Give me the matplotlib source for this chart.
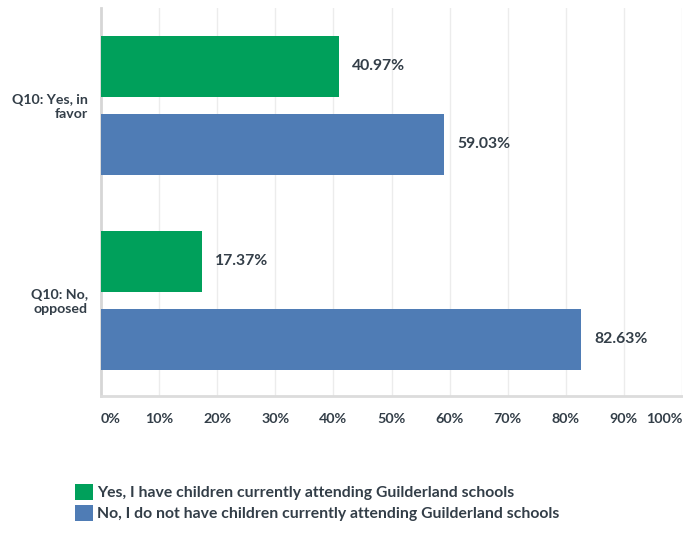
import matplotlib
matplotlib.use("Agg")
import matplotlib.pyplot as plt
from matplotlib.patches import Patch
import numpy as np

categories = ["Q10: Yes, in\nfavor", "Q10: No,\nopposed"]
series_names = ["Yes, I have children currently attending Guilderland schools",
                "No, I do not have children currently attending Guilderland schools"]
yes_children = [40.97, 17.37]
no_children = [59.03, 82.63]
xticks = [0, 10, 20, 30, 40, 50, 60, 70, 80, 90, 100]
xtick_labels = ["0%", "10%", "20%", "30%", "40%", "50%", "60%", "70%", "80%", "90%", "100%"]

GREEN = "#00a05b"
BLUE = "#4f7cb5"
TXT = "#333e48"
FONT = ["Lato", "DejaVu Sans"]

plt.rcParams["font.family"] = FONT

fig = plt.figure(figsize=(6.83, 5.33), dpi=100)
ax = fig.add_axes([101 / 683, 1 - 396 / 533, 581 / 683, 388 / 533])

y = np.arange(len(categories))
off = 0.2
h = 0.314
series = [yes_children, no_children]
colors = [GREEN, BLUE]
for i, (vals, col) in enumerate(zip(series, colors)):
    pos = y + (-off if i == 0 else off)
    ax.barh(pos, vals, height=h, color=col, zorder=3)
    for p, v in zip(pos, vals):
        ax.annotate(f"{v:.2f}%", (v, p), xytext=(9.4, 0), textcoords="offset points",
                    ha="left", va="center", fontsize=11.3, fontweight="bold", color=TXT)

ax.set_xlim(0, 100)
ax.set_ylim(1.49, -0.5)
ax.set_xticks(xticks)
ax.set_xticklabels(xtick_labels)
ax.set_yticks(y)
ax.set_yticklabels(categories, fontsize=10.2, fontweight="bold", color=TXT, ha="right",
                   multialignment="right", linespacing=1.2)
ax.tick_params(axis="y", length=0, pad=9.5)
ax.tick_params(axis="x", length=0, pad=12, labelsize=10.3, labelcolor=TXT)
for lbl in ax.get_xticklabels():
    lbl.set_fontweight("bold")
labels = ax.get_xticklabels()
labels[0].set_horizontalalignment("left")
labels[-1].set_horizontalalignment("right")

ax.grid(axis="x", color="#ececec", linewidth=1, zorder=0)
for s in ["top", "right"]:
    ax.spines[s].set_visible(False)
ax.spines["left"].set_color("#d6d6d6")
ax.spines["left"].set_linewidth(2)
ax.spines["bottom"].set_color("#dcdcdc")
ax.spines["bottom"].set_linewidth(2)

handles = [Patch(facecolor=c, edgecolor="none") for c in colors]
fig.legend(handles, series_names, loc="upper left", bbox_to_anchor=(75 / 683, 1 - 484 / 533),
           frameon=False, prop={"weight": "bold", "family": FONT, "size": 11.3},
           handlelength=1.15, handleheight=1.15, handletextpad=0.25, labelspacing=0.33,
           labelcolor=TXT, borderaxespad=0, borderpad=0)

fig.savefig("out.png", dpi=100)
